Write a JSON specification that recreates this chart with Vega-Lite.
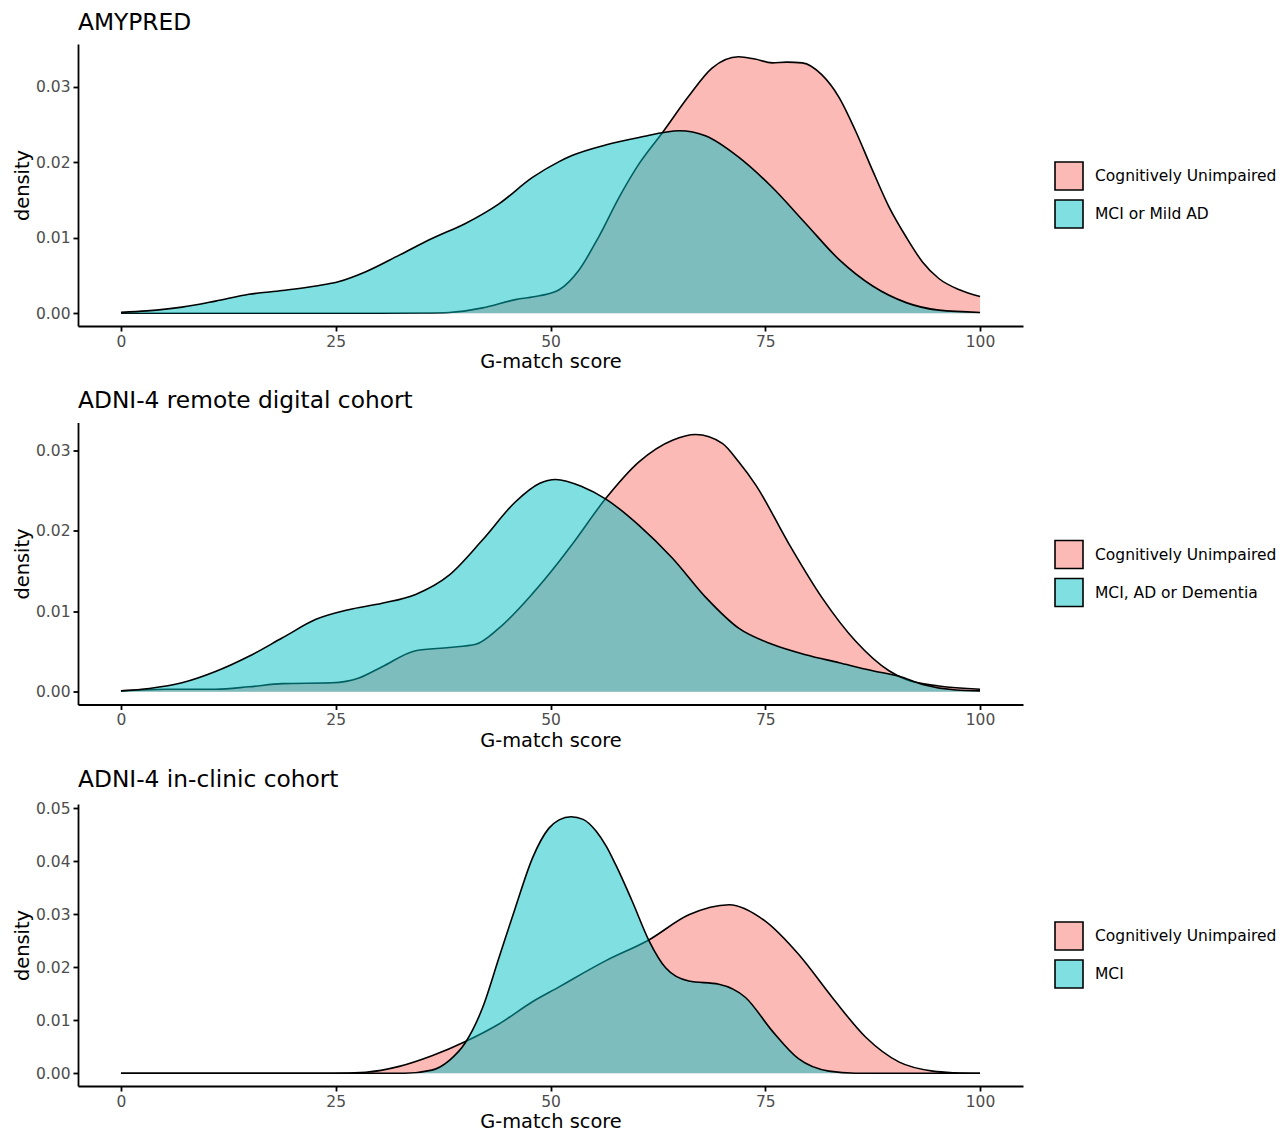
{
  "$schema": "https://vega.github.io/schema/vega-lite/v6.json",
  "padding": {"left": 12, "top": 10, "right": 2, "bottom": 8},
  "spacing": 17.5,
  "background": "white",
  "config": {
    "view": {"stroke": null},
    "font": "DejaVu Sans",
    "title": {"anchor": "start", "frame": "group", "fontSize": 23.3, "fontWeight": "normal", "color": "black", "font": "DejaVu Sans", "offset": 9},
    "axis": {
      "grid": false, "domainColor": "black", "domainWidth": 1.8, "tickColor": "black", "tickWidth": 1.8, "tickSize": 5,
      "labelColor": "#4D4D4D", "labelFontSize": 15.5, "labelFont": "DejaVu Sans", "labelPadding": 3,
      "titleFontSize": 19.4, "titleFont": "DejaVu Sans", "titleFontWeight": "normal", "titleColor": "black", "titlePadding": 3
    },
    "legend": {"labelFont": "DejaVu Sans", "labelLimit": 0}
  },
  "resolve": {"scale": {"color": "independent", "x": "independent", "y": "independent"}, "legend": {"color": "independent"}},
  "datasets": {
    "amypred": [
      {"g": "Cognitively Unimpaired", "x": 0, "d": 0},
      {"g": "Cognitively Unimpaired", "x": 10, "d": 0},
      {"g": "Cognitively Unimpaired", "x": 20, "d": 0},
      {"g": "Cognitively Unimpaired", "x": 30, "d": 0},
      {"g": "Cognitively Unimpaired", "x": 35, "d": 0.00003},
      {"g": "Cognitively Unimpaired", "x": 38.2, "d": 0.0001},
      {"g": "Cognitively Unimpaired", "x": 42.1, "d": 0.0007},
      {"g": "Cognitively Unimpaired", "x": 45.9, "d": 0.0018},
      {"g": "Cognitively Unimpaired", "x": 48.7, "d": 0.0023},
      {"g": "Cognitively Unimpaired", "x": 51, "d": 0.0031},
      {"g": "Cognitively Unimpaired", "x": 53.3, "d": 0.0057},
      {"g": "Cognitively Unimpaired", "x": 55.6, "d": 0.0101},
      {"g": "Cognitively Unimpaired", "x": 58, "d": 0.0154},
      {"g": "Cognitively Unimpaired", "x": 60.3, "d": 0.0198},
      {"g": "Cognitively Unimpaired", "x": 63, "d": 0.0239},
      {"g": "Cognitively Unimpaired", "x": 66.1, "d": 0.0288},
      {"g": "Cognitively Unimpaired", "x": 68.8, "d": 0.0325},
      {"g": "Cognitively Unimpaired", "x": 71.9, "d": 0.034},
      {"g": "Cognitively Unimpaired", "x": 73.8, "d": 0.0337},
      {"g": "Cognitively Unimpaired", "x": 75.8, "d": 0.0332},
      {"g": "Cognitively Unimpaired", "x": 77.5, "d": 0.0333},
      {"g": "Cognitively Unimpaired", "x": 79.3, "d": 0.0332},
      {"g": "Cognitively Unimpaired", "x": 81.6, "d": 0.0316},
      {"g": "Cognitively Unimpaired", "x": 83.6, "d": 0.0286},
      {"g": "Cognitively Unimpaired", "x": 85.5, "d": 0.0242},
      {"g": "Cognitively Unimpaired", "x": 87.5, "d": 0.0189},
      {"g": "Cognitively Unimpaired", "x": 89.4, "d": 0.0141},
      {"g": "Cognitively Unimpaired", "x": 91.4, "d": 0.0101},
      {"g": "Cognitively Unimpaired", "x": 93.3, "d": 0.0068},
      {"g": "Cognitively Unimpaired", "x": 95.2, "d": 0.0046},
      {"g": "Cognitively Unimpaired", "x": 97.6, "d": 0.0031},
      {"g": "Cognitively Unimpaired", "x": 100, "d": 0.0022},
      {"g": "MCI or Mild AD", "x": 0, "d": 0.0001},
      {"g": "MCI or Mild AD", "x": 3, "d": 0.0003},
      {"g": "MCI or Mild AD", "x": 7.1, "d": 0.0008},
      {"g": "MCI or Mild AD", "x": 11, "d": 0.0016},
      {"g": "MCI or Mild AD", "x": 14.9, "d": 0.0025},
      {"g": "MCI or Mild AD", "x": 18.8, "d": 0.003},
      {"g": "MCI or Mild AD", "x": 22.7, "d": 0.0036},
      {"g": "MCI or Mild AD", "x": 25.4, "d": 0.0042},
      {"g": "MCI or Mild AD", "x": 28.5, "d": 0.0055},
      {"g": "MCI or Mild AD", "x": 32.4, "d": 0.0077},
      {"g": "MCI or Mild AD", "x": 36.2, "d": 0.0099},
      {"g": "MCI or Mild AD", "x": 40.1, "d": 0.0119},
      {"g": "MCI or Mild AD", "x": 44, "d": 0.0145},
      {"g": "MCI or Mild AD", "x": 47.9, "d": 0.018},
      {"g": "MCI or Mild AD", "x": 51, "d": 0.0201},
      {"g": "MCI or Mild AD", "x": 52.5, "d": 0.0209},
      {"g": "MCI or Mild AD", "x": 56.4, "d": 0.0223},
      {"g": "MCI or Mild AD", "x": 60.3, "d": 0.0233},
      {"g": "MCI or Mild AD", "x": 65, "d": 0.0242},
      {"g": "MCI or Mild AD", "x": 68.1, "d": 0.0235},
      {"g": "MCI or Mild AD", "x": 71.9, "d": 0.0207},
      {"g": "MCI or Mild AD", "x": 75.8, "d": 0.0167},
      {"g": "MCI or Mild AD", "x": 79.7, "d": 0.0119},
      {"g": "MCI or Mild AD", "x": 83.6, "d": 0.0071},
      {"g": "MCI or Mild AD", "x": 87.5, "d": 0.0036},
      {"g": "MCI or Mild AD", "x": 91.4, "d": 0.0014},
      {"g": "MCI or Mild AD", "x": 95.2, "d": 0.0004},
      {"g": "MCI or Mild AD", "x": 100, "d": 0.0001}
    ],
    "remote": [
      {"g": "Cognitively Unimpaired", "x": 0, "d": 0.0001},
      {"g": "Cognitively Unimpaired", "x": 5.2, "d": 0.0003},
      {"g": "Cognitively Unimpaired", "x": 11, "d": 0.0003},
      {"g": "Cognitively Unimpaired", "x": 14.9, "d": 0.0006},
      {"g": "Cognitively Unimpaired", "x": 18.8, "d": 0.001},
      {"g": "Cognitively Unimpaired", "x": 24.6, "d": 0.0011},
      {"g": "Cognitively Unimpaired", "x": 27.7, "d": 0.0017},
      {"g": "Cognitively Unimpaired", "x": 30.4, "d": 0.0031},
      {"g": "Cognitively Unimpaired", "x": 34.3, "d": 0.0051},
      {"g": "Cognitively Unimpaired", "x": 38.2, "d": 0.0055},
      {"g": "Cognitively Unimpaired", "x": 41.3, "d": 0.0059},
      {"g": "Cognitively Unimpaired", "x": 44, "d": 0.0079},
      {"g": "Cognitively Unimpaired", "x": 47.9, "d": 0.0122},
      {"g": "Cognitively Unimpaired", "x": 51, "d": 0.0162},
      {"g": "Cognitively Unimpaired", "x": 52.5, "d": 0.0183},
      {"g": "Cognitively Unimpaired", "x": 56.4, "d": 0.024},
      {"g": "Cognitively Unimpaired", "x": 60.3, "d": 0.0286},
      {"g": "Cognitively Unimpaired", "x": 64.2, "d": 0.0313},
      {"g": "Cognitively Unimpaired", "x": 66.9, "d": 0.032},
      {"g": "Cognitively Unimpaired", "x": 70, "d": 0.0309},
      {"g": "Cognitively Unimpaired", "x": 71.9, "d": 0.0286},
      {"g": "Cognitively Unimpaired", "x": 73.9, "d": 0.0257},
      {"g": "Cognitively Unimpaired", "x": 77.8, "d": 0.0183},
      {"g": "Cognitively Unimpaired", "x": 81.6, "d": 0.0117},
      {"g": "Cognitively Unimpaired", "x": 85.5, "d": 0.0063},
      {"g": "Cognitively Unimpaired", "x": 89.4, "d": 0.0026},
      {"g": "Cognitively Unimpaired", "x": 91.4, "d": 0.0015},
      {"g": "Cognitively Unimpaired", "x": 95.2, "d": 0.0007},
      {"g": "Cognitively Unimpaired", "x": 100, "d": 0.0003},
      {"g": "MCI, AD or Dementia", "x": 0, "d": 0.0001},
      {"g": "MCI, AD or Dementia", "x": 3.3, "d": 0.0004},
      {"g": "MCI, AD or Dementia", "x": 7.1, "d": 0.0011},
      {"g": "MCI, AD or Dementia", "x": 11, "d": 0.0025},
      {"g": "MCI, AD or Dementia", "x": 14.9, "d": 0.0044},
      {"g": "MCI, AD or Dementia", "x": 18.8, "d": 0.0067},
      {"g": "MCI, AD or Dementia", "x": 22.7, "d": 0.009},
      {"g": "MCI, AD or Dementia", "x": 26.5, "d": 0.0102},
      {"g": "MCI, AD or Dementia", "x": 30.4, "d": 0.011},
      {"g": "MCI, AD or Dementia", "x": 34.3, "d": 0.0121},
      {"g": "MCI, AD or Dementia", "x": 38.2, "d": 0.0145},
      {"g": "MCI, AD or Dementia", "x": 42.1, "d": 0.0189},
      {"g": "MCI, AD or Dementia", "x": 45.9, "d": 0.0236},
      {"g": "MCI, AD or Dementia", "x": 48.7, "d": 0.0259},
      {"g": "MCI, AD or Dementia", "x": 50.6, "d": 0.0264},
      {"g": "MCI, AD or Dementia", "x": 53.7, "d": 0.0255},
      {"g": "MCI, AD or Dementia", "x": 56.4, "d": 0.024},
      {"g": "MCI, AD or Dementia", "x": 60.3, "d": 0.0207},
      {"g": "MCI, AD or Dementia", "x": 64.2, "d": 0.0166},
      {"g": "MCI, AD or Dementia", "x": 68.1, "d": 0.0117},
      {"g": "MCI, AD or Dementia", "x": 71.9, "d": 0.0079},
      {"g": "MCI, AD or Dementia", "x": 75.8, "d": 0.0059},
      {"g": "MCI, AD or Dementia", "x": 79.7, "d": 0.0046},
      {"g": "MCI, AD or Dementia", "x": 83.6, "d": 0.0036},
      {"g": "MCI, AD or Dementia", "x": 87.5, "d": 0.0026},
      {"g": "MCI, AD or Dementia", "x": 90.6, "d": 0.0019},
      {"g": "MCI, AD or Dementia", "x": 93.3, "d": 0.0009},
      {"g": "MCI, AD or Dementia", "x": 97.2, "d": 0.0002},
      {"g": "MCI, AD or Dementia", "x": 100, "d": 0.0001}
    ],
    "clinic": [
      {"g": "Cognitively Unimpaired", "x": 0, "d": 0},
      {"g": "Cognitively Unimpaired", "x": 10, "d": 0},
      {"g": "Cognitively Unimpaired", "x": 20, "d": 0},
      {"g": "Cognitively Unimpaired", "x": 24.6, "d": 0},
      {"g": "Cognitively Unimpaired", "x": 28.5, "d": 0.0002},
      {"g": "Cognitively Unimpaired", "x": 32.4, "d": 0.0013},
      {"g": "Cognitively Unimpaired", "x": 36.2, "d": 0.0033},
      {"g": "Cognitively Unimpaired", "x": 40.1, "d": 0.006},
      {"g": "Cognitively Unimpaired", "x": 44, "d": 0.0093},
      {"g": "Cognitively Unimpaired", "x": 47.9, "d": 0.0135},
      {"g": "Cognitively Unimpaired", "x": 51, "d": 0.0163},
      {"g": "Cognitively Unimpaired", "x": 52.5, "d": 0.0177},
      {"g": "Cognitively Unimpaired", "x": 56.4, "d": 0.0212},
      {"g": "Cognitively Unimpaired", "x": 61.5, "d": 0.0252},
      {"g": "Cognitively Unimpaired", "x": 66.1, "d": 0.0299},
      {"g": "Cognitively Unimpaired", "x": 70.8, "d": 0.0318},
      {"g": "Cognitively Unimpaired", "x": 75, "d": 0.0287},
      {"g": "Cognitively Unimpaired", "x": 78.9, "d": 0.0224},
      {"g": "Cognitively Unimpaired", "x": 82.8, "d": 0.0143},
      {"g": "Cognitively Unimpaired", "x": 86.7, "d": 0.0068},
      {"g": "Cognitively Unimpaired", "x": 90.6, "d": 0.0021},
      {"g": "Cognitively Unimpaired", "x": 94.5, "d": 0.0004},
      {"g": "Cognitively Unimpaired", "x": 97, "d": 0.0001},
      {"g": "Cognitively Unimpaired", "x": 100, "d": 0},
      {"g": "MCI", "x": 0, "d": 0},
      {"g": "MCI", "x": 10, "d": 0},
      {"g": "MCI", "x": 20, "d": 0},
      {"g": "MCI", "x": 30, "d": 0},
      {"g": "MCI", "x": 33, "d": 0},
      {"g": "MCI", "x": 36.2, "d": 0.0006},
      {"g": "MCI", "x": 38.2, "d": 0.0024},
      {"g": "MCI", "x": 40.1, "d": 0.0058},
      {"g": "MCI", "x": 42.1, "d": 0.0124},
      {"g": "MCI", "x": 44, "d": 0.0218},
      {"g": "MCI", "x": 45.9, "d": 0.0312},
      {"g": "MCI", "x": 47.9, "d": 0.0406},
      {"g": "MCI", "x": 49.8, "d": 0.0462},
      {"g": "MCI", "x": 51, "d": 0.0478},
      {"g": "MCI", "x": 52.4, "d": 0.0484},
      {"g": "MCI", "x": 53.8, "d": 0.0479},
      {"g": "MCI", "x": 55.3, "d": 0.0457},
      {"g": "MCI", "x": 56.5, "d": 0.0428},
      {"g": "MCI", "x": 57.6, "d": 0.0393},
      {"g": "MCI", "x": 59.5, "d": 0.0325},
      {"g": "MCI", "x": 61.5, "d": 0.0249},
      {"g": "MCI", "x": 63.4, "d": 0.0199},
      {"g": "MCI", "x": 66.1, "d": 0.0174},
      {"g": "MCI", "x": 69.6, "d": 0.0168},
      {"g": "MCI", "x": 72.7, "d": 0.0143},
      {"g": "MCI", "x": 75.8, "d": 0.008},
      {"g": "MCI", "x": 78.9, "d": 0.0027},
      {"g": "MCI", "x": 82.4, "d": 0.0004},
      {"g": "MCI", "x": 85.5, "d": 0},
      {"g": "MCI", "x": 90, "d": 0},
      {"g": "MCI", "x": 100, "d": 0}
    ]
  },
  "vconcat": [
    {
      "title": "AMYPRED",
      "width": 945, "height": 282,
      "data": {"name": "amypred"},
      "encoding": {
        "x": {"field": "x", "type": "quantitative", "scale": {"domain": [-5, 105], "nice": false, "zero": false}, "axis": {"values": [0, 25, 50, 75, 100], "title": "G-match score", "labelFontSize": 15.5, "titleFontSize": 19.4}},
        "y": {"field": "d", "type": "quantitative", "scale": {"domain": [-0.0017, 0.0357], "nice": false, "zero": false}, "axis": {"values": [0, 0.01, 0.02, 0.03], "format": ".2f", "title": "density", "labelFontSize": 15.5, "titleFontSize": 19.4}}
      },
      "layer": [
        {"transform": [{"filter": "datum.g === 'Cognitively Unimpaired'"}], "mark": {"type": "area", "interpolate": "monotone", "fillOpacity": 0.5},
         "encoding": {"y2": {"datum": 0}, "color": {"field": "g", "type": "nominal", "scale": {"domain": ["Cognitively Unimpaired", "MCI or Mild AD"], "range": ["#F8766D", "#00BFC4"]},
           "legend": {"title": null, "orient": "none", "legendX": 976, "legendY": 117, "symbolType": "square", "symbolSize": 784, "labelFontSize": 15.5, "labelColor": "black", "labelOffset": 11, "rowPadding": 2, "labelLimit": 0,
             "encode": {"symbols": {"update": {"fillOpacity": {"value": 0.5}, "stroke": {"value": "black"}, "strokeWidth": {"value": 1.6}, "strokeOpacity": {"value": 1}}}}}}}},
        {"transform": [{"filter": "datum.g === 'Cognitively Unimpaired'"}], "mark": {"type": "line", "interpolate": "monotone", "color": "black", "strokeWidth": 1.6}, "encoding": {}},
        {"transform": [{"filter": "datum.g === 'MCI or Mild AD'"}], "mark": {"type": "area", "interpolate": "monotone", "fillOpacity": 0.5},
         "encoding": {"y2": {"datum": 0}, "color": {"field": "g", "type": "nominal"}}},
        {"transform": [{"filter": "datum.g === 'MCI or Mild AD'"}], "mark": {"type": "line", "interpolate": "monotone", "color": "black", "strokeWidth": 1.6}, "encoding": {}}
      ]
    },
    {
      "title": "ADNI-4 remote digital cohort",
      "width": 945, "height": 282,
      "data": {"name": "remote"},
      "encoding": {
        "x": {"field": "x", "type": "quantitative", "scale": {"domain": [-5, 105], "nice": false, "zero": false}, "axis": {"values": [0, 25, 50, 75, 100], "title": "G-match score", "labelFontSize": 15.5, "titleFontSize": 19.4}},
        "y": {"field": "d", "type": "quantitative", "scale": {"domain": [-0.0016, 0.0335], "nice": false, "zero": false}, "axis": {"values": [0, 0.01, 0.02, 0.03], "format": ".2f", "title": "density", "labelFontSize": 15.5, "titleFontSize": 19.4}}
      },
      "layer": [
        {"transform": [{"filter": "datum.g === 'Cognitively Unimpaired'"}], "mark": {"type": "area", "interpolate": "monotone", "fillOpacity": 0.5},
         "encoding": {"y2": {"datum": 0}, "color": {"field": "g", "type": "nominal", "scale": {"domain": ["Cognitively Unimpaired", "MCI, AD or Dementia"], "range": ["#F8766D", "#00BFC4"]},
           "legend": {"title": null, "orient": "none", "legendX": 976, "legendY": 117, "symbolType": "square", "symbolSize": 784, "labelFontSize": 15.5, "labelColor": "black", "labelOffset": 11, "rowPadding": 2, "labelLimit": 0,
             "encode": {"symbols": {"update": {"fillOpacity": {"value": 0.5}, "stroke": {"value": "black"}, "strokeWidth": {"value": 1.6}, "strokeOpacity": {"value": 1}}}}}}}},
        {"transform": [{"filter": "datum.g === 'Cognitively Unimpaired'"}], "mark": {"type": "line", "interpolate": "monotone", "color": "black", "strokeWidth": 1.6}, "encoding": {}},
        {"transform": [{"filter": "datum.g === 'MCI, AD or Dementia'"}], "mark": {"type": "area", "interpolate": "monotone", "fillOpacity": 0.5},
         "encoding": {"y2": {"datum": 0}, "color": {"field": "g", "type": "nominal"}}},
        {"transform": [{"filter": "datum.g === 'MCI, AD or Dementia'"}], "mark": {"type": "line", "interpolate": "monotone", "color": "black", "strokeWidth": 1.6}, "encoding": {}}
      ]
    },
    {
      "title": "ADNI-4 in-clinic cohort",
      "width": 945, "height": 282,
      "data": {"name": "clinic"},
      "encoding": {
        "x": {"field": "x", "type": "quantitative", "scale": {"domain": [-5, 105], "nice": false, "zero": false}, "axis": {"values": [0, 25, 50, 75, 100], "title": "G-match score", "labelFontSize": 15.5, "titleFontSize": 19.4}},
        "y": {"field": "d", "type": "quantitative", "scale": {"domain": [-0.0024, 0.0508], "nice": false, "zero": false}, "axis": {"values": [0, 0.01, 0.02, 0.03, 0.04, 0.05], "format": ".2f", "title": "density", "labelFontSize": 15.5, "titleFontSize": 19.4}}
      },
      "layer": [
        {"transform": [{"filter": "datum.g === 'Cognitively Unimpaired'"}], "mark": {"type": "area", "interpolate": "monotone", "fillOpacity": 0.5},
         "encoding": {"y2": {"datum": 0}, "color": {"field": "g", "type": "nominal", "scale": {"domain": ["Cognitively Unimpaired", "MCI"], "range": ["#F8766D", "#00BFC4"]},
           "legend": {"title": null, "orient": "none", "legendX": 976, "legendY": 117, "symbolType": "square", "symbolSize": 784, "labelFontSize": 15.5, "labelColor": "black", "labelOffset": 11, "rowPadding": 2, "labelLimit": 0,
             "encode": {"symbols": {"update": {"fillOpacity": {"value": 0.5}, "stroke": {"value": "black"}, "strokeWidth": {"value": 1.6}, "strokeOpacity": {"value": 1}}}}}}}},
        {"transform": [{"filter": "datum.g === 'Cognitively Unimpaired'"}], "mark": {"type": "line", "interpolate": "monotone", "color": "black", "strokeWidth": 1.6}, "encoding": {}},
        {"transform": [{"filter": "datum.g === 'MCI'"}], "mark": {"type": "area", "interpolate": "monotone", "fillOpacity": 0.5},
         "encoding": {"y2": {"datum": 0}, "color": {"field": "g", "type": "nominal"}}},
        {"transform": [{"filter": "datum.g === 'MCI'"}], "mark": {"type": "line", "interpolate": "monotone", "color": "black", "strokeWidth": 1.6}, "encoding": {}}
      ]
    }
  ]
}
